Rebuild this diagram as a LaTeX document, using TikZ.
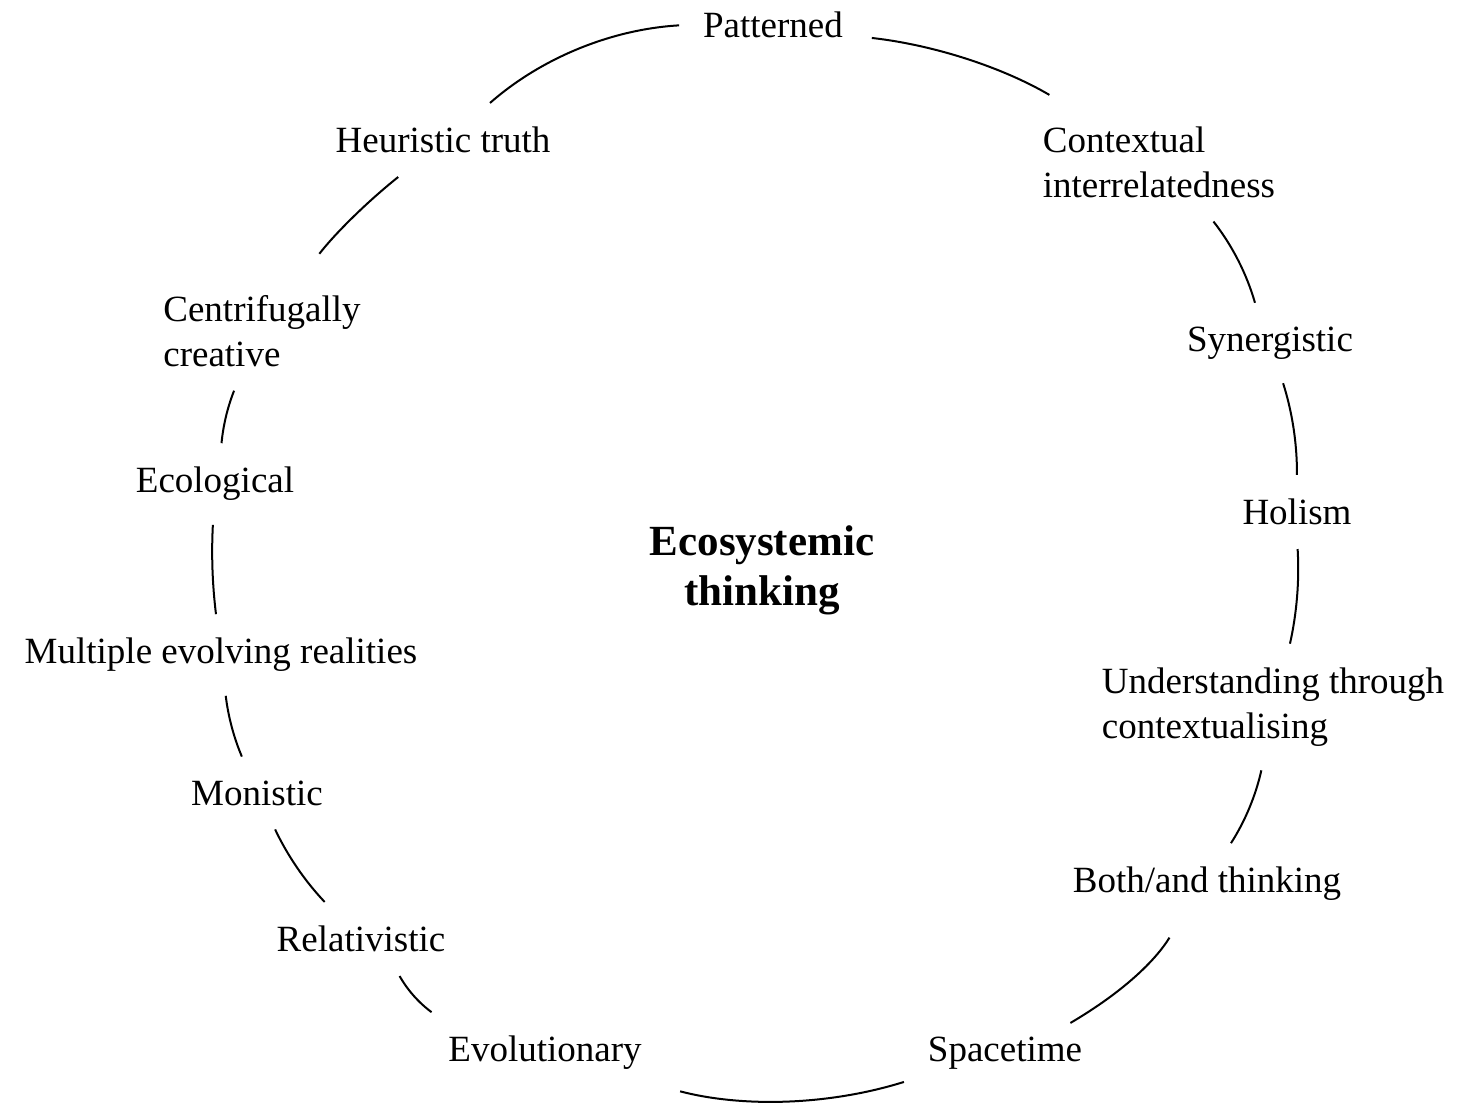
\documentclass[tikz,border=0pt]{standalone}
\usepackage{fontspec}
\setmainfont{Liberation Serif}

\begin{document}
\begin{tikzpicture}[x=1pt, y=1pt,
  item/.style={font=\fontsize{37}{45}\selectfont, inner sep=4pt, outer sep=20pt},
  link/.style={line width=2pt, looseness=0.85}]
  \fill[white] (0,0) rectangle (1468,-1106);
  \useasboundingbox (0,0) rectangle (1468,-1106);
  % labels around the ring
  \node[item] (pat) at (773,-25) {Patterned};
  \node[item, align=left] (ctx) at (1159,-162) {Contextual\\interrelatedness};
  \node[item] (syn) at (1270,-343) {Synergistic};
  \node[item] (hol) at (1297,-512) {Holism};
  \node[item, align=left] (und) at (1273,-707) {Understanding through\\contextualising};
  \node[item] (both) at (1207,-884) {Both/and thinking};
  \node[item] (spc) at (1005,-1053) {Spacetime};
  \node[item] (evo) at (545,-1053) {Evolutionary};
  \node[item] (rel) at (361,-939) {Relativistic};
  \node[item] (mon) at (257,-793) {Monistic};
  \node[item] (mul) at (221,-655) {Multiple evolving realities};
  \node[item] (ecl) at (215,-484) {Ecological};
  \node[item, align=left] (cen) at (262,-331) {Centrifugally\\creative};
  \node[item] (heu) at (443,-140) {Heuristic truth};
  % centre
  \node[font=\fontsize{43}{50}\selectfont\bfseries, align=center] (eco) at (762,-570) {Ecosystemic\\thinking};
  % ring segments
  \draw[link, shorten <=5pt, shorten >=15pt] (pat) to[bend left=12] (ctx);
  \draw[link] (ctx) to[bend left=11] (syn);
  \draw[link] (syn) to[bend left=9] (hol);
  \draw[link] (hol) to[bend left=8] (und);
  \draw[link] (und) to[bend left=10] (both);
  \draw[link, shorten <=15pt, shorten >=-20pt] (both) to[bend left=14] (spc);
  \draw[link, shorten >=15pt] (spc) to[bend left=16] (evo);
  \draw[link] (evo) to[bend left=12] (rel);
  \draw[link] (rel) to[bend left=9] (mon);
  \draw[link] (mon) to[bend left=8] (mul);
  \draw[link] (mul) to[bend left=5] (ecl);
  \draw[link] (ecl) to[bend left=8] (cen);
  \draw[link, shorten <=22pt] (cen) to[bend left=7] (heu);
  \draw[link] (heu) to[bend left=19] (pat);
\end{tikzpicture}
\end{document}
